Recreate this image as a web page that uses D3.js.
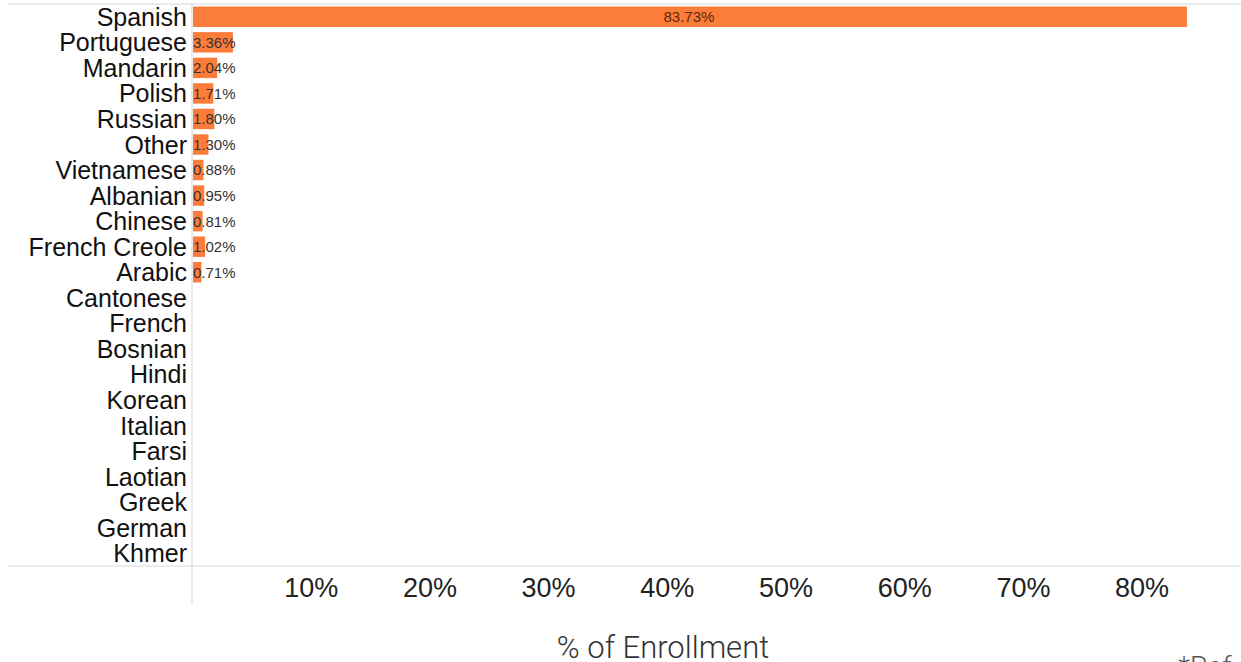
<!DOCTYPE html>
<html><head><meta charset="utf-8">
<script src="https://cdn.jsdelivr.net/npm/d3@7"></script>
<style>body{margin:0;background:#fff;overflow:hidden}</style>
</head><body>
<svg id="chart" width="1241" height="662"></svg>
<script>
const categories = ["Spanish","Portuguese","Mandarin","Polish","Russian","Other","Vietnamese","Albanian","Chinese","French Creole","Arabic","Cantonese","French","Bosnian","Hindi","Korean","Italian","Farsi","Laotian","Greek","German","Khmer"];
const values = [83.73,3.36,2.04,1.71,1.80,1.30,0.88,0.95,0.81,1.02,0.71,null,null,null,null,null,null,null,null,null,null,null];
const tickValues = [10,20,30,40,50,60,70,80];
const axisTitle = "% of Enrollment";
const footnote = "*Ref";

(function () {
const svg = d3.select("#chart");
const mLeft = 192, mRight = 1241, mTop = 4, mBottom = 566;
const x = d3.scaleLinear().domain([0, 10]).range([mLeft, mLeft + 118.7]);
const y = d3.scaleBand().domain(categories).range([mTop, mBottom]).paddingInner(0.2).paddingOuter(0.1);

// frame lines
svg.append("line").attr("x1", 8).attr("x2", mRight).attr("y1", mTop).attr("y2", mTop).attr("stroke", "#d4d4d4");
svg.append("line").attr("x1", 8).attr("x2", mRight).attr("y1", mBottom).attr("y2", mBottom).attr("stroke", "#d9d9d9");
svg.append("line").attr("x1", mLeft).attr("x2", mLeft).attr("y1", mTop).attr("y2", 605).attr("stroke", "#d4d4d4");

const data = categories.map((c, i) => ({c, v: values[i]}));
const withVal = data.filter(d => d.v != null);

svg.selectAll("rect.bar").data(withVal).join("rect").attr("class", "bar")
  .attr("x", x(0) + 1).attr("y", d => y(d.c)).attr("height", y.bandwidth())
  .attr("width", d => x(d.v) - x(0)).attr("fill", "#fc7c39");

// category labels
svg.selectAll("text.cat").data(categories).join("text").attr("class", "cat")
  .attr("x", 187).attr("y", d => y(d) + y.bandwidth() / 2).attr("dy", "0.36em")
  .attr("text-anchor", "end").attr("font-family", "Liberation Sans, Arial, sans-serif")
  .attr("font-size", 25).attr("fill", "#111").text(d => d);

// value labels
svg.selectAll("text.val").data(withVal).join("text").attr("class", "val")
  .attr("x", d => d.v > 50 ? (x(0) + x(d.v)) / 2 : x(0) + 1)
  .attr("text-anchor", d => d.v > 50 ? "middle" : "start")
  .attr("y", d => y(d.c) + y.bandwidth() / 2).attr("dy", "0.36em")
  .attr("font-family", "Liberation Sans, Arial, sans-serif").attr("font-size", 15)
  .attr("fill", d => d.v > 50 ? "#5a2a10" : "#333").text(d => d.v.toFixed(2) + "%");

// x axis
const axis = d3.axisBottom(x).tickValues(tickValues).tickFormat(d => d + "%").tickSize(0).tickPadding(0);
const g = svg.append("g").attr("transform", `translate(0,${mBottom})`).call(axis);
g.select(".domain").remove();
g.selectAll("text").attr("y", 21).attr("dy", "0.36em")
  .attr("font-family", "Liberation Sans Narrow, Liberation Sans, sans-serif")
  .attr("font-weight", 400)
  .attr("font-size", 27).attr("fill", "#222");

svg.append("text").attr("x", 663).attr("y", 658).attr("text-anchor", "middle")
  .attr("font-family", "Roboto, sans-serif").attr("font-weight", 300)
  .attr("font-size", 31).attr("fill", "#333").text(axisTitle);

svg.append("text").attr("x", 1178).attr("y", 676)
  .attr("font-family", "Roboto, sans-serif").attr("font-weight", 300)
  .attr("font-size", 28).attr("fill", "#555").text(footnote);
})();
</script>
</body></html>
